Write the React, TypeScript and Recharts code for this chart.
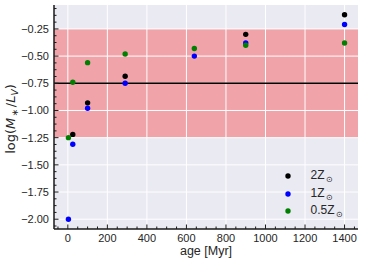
import React from 'react'
import { ScatterChart, Scatter, XAxis, YAxis, ReferenceArea, ReferenceLine, Legend } from 'recharts'

// ages in Myr and log(M*/L_V) for each metallicity
const ages2Z = [25, 100, 290, 900, 1400]
const logML2Z = [-1.22, -0.93, -0.685, -0.30, -0.12]
const ages1Z = [3, 25, 100, 290, 640, 900, 1400]
const logML1Z = [-2.0, -1.31, -0.98, -0.75, -0.5, -0.38, -0.21]
const ages05Z = [3, 25, 100, 290, 640, 900, 1400]
const logML05Z = [-1.25, -0.74, -0.56, -0.48, -0.43, -0.4, -0.38]

const xMajor = [0, 200, 400, 600, 800, 1000, 1200, 1400]
const yMajor = [-2.0, -1.75, -1.5, -1.25, -1.0, -0.75, -0.5, -0.25]
const xDomain: [number, number] = [-70, 1468]
const yDomain: [number, number] = [-2.09, -0.03]
const band: [number, number] = [-1.25, -0.25]
const refLevel = -0.75

// minor ticks: 4 divisions per major step
const xTicks: number[] = []
for (let v = -50; v <= 1450; v += 50) xTicks.push(v)
const yTicks: number[] = []
for (let v = -2.0625; v <= -0.05; v += 0.0625) yTicks.push(v)

const toPoints = (ages: number[], vals: number[]) => ages.map((age, i) => ({ age, v: vals[i] }))

const series = [
  { name: '2Z', color: '#000000', data: toPoints(ages2Z, logML2Z) },
  { name: '1Z', color: '#0000ff', data: toPoints(ages1Z, logML1Z) },
  { name: '0.5Z', color: '#008000', data: toPoints(ages05Z, logML05Z) },
]

const FONT = '"Liberation Sans", Arial, sans-serif'
const MATH = '"DejaVu Sans", sans-serif'
const INK = '#262626'
const FRAME = '#1a1a1a'
const MAJOR = 4.5
const MINOR = 2.5

const isMajor = (v: number, majors: number[]) => majors.some(m => Math.abs(m - v) < 1e-6)
const fmtY = (v: number) => (v < 0 ? '\u2212' : '') + Math.abs(v).toFixed(2)

const BottomTick = (props: any) => {
  const { x, y, payload } = props
  const major = isMajor(payload.value, xMajor)
  return (
    <g>
      <line x1={x} x2={x} y1={y} y2={y - (major ? MAJOR : MINOR)} stroke={FRAME} strokeWidth={1} />
      {major && (
        <text x={x} y={y + 12.5} textAnchor="middle" fontSize={11} fontFamily={FONT} fill={INK}>
          {payload.value}
        </text>
      )}
    </g>
  )
}

const TopTick = (props: any) => {
  const { x, y, payload } = props
  const major = isMajor(payload.value, xMajor)
  return <line x1={x} x2={x} y1={y} y2={y + (major ? MAJOR : MINOR)} stroke={FRAME} strokeWidth={1} />
}

const LeftTick = (props: any) => {
  const { x, y, payload } = props
  const major = isMajor(payload.value, yMajor)
  return (
    <g>
      <line x1={x} x2={x + (major ? MAJOR : MINOR)} y1={y} y2={y} stroke={FRAME} strokeWidth={1} />
      {major && (
        <text x={x - 5} y={y + 4} textAnchor="end" fontSize={11} fontFamily={FONT} fill={INK}>
          {fmtY(payload.value)}
        </text>
      )}
    </g>
  )
}

const RightTick = (props: any) => {
  const { x, y, payload } = props
  const major = isMajor(payload.value, yMajor)
  return <line x1={x} x2={x - (major ? MAJOR : MINOR)} y1={y} y2={y} stroke={FRAME} strokeWidth={1} />
}

const XLabel = (props: any) => {
  const vb = props.viewBox
  return (
    <text x={vb.x + vb.width / 2} y={vb.y + 25.5} textAnchor="middle" fontSize={12.5} fontFamily={FONT} fill={INK}>
      age [Myr]
    </text>
  )
}

const YLabel = (props: any) => {
  const vb = props.viewBox
  const cy = vb.y + vb.height / 2 + 2
  return (
    <text
      transform={`translate(14.5,${cy}) rotate(-90)`}
      textAnchor="middle"
      fontSize={13}
      fontFamily={MATH}
      fill={INK}
    >
      log(<tspan fontStyle="italic">M</tspan>
      <tspan fontSize={9} dy={3} dx={1.5}>∗</tspan>
      <tspan dy={-3} dx={1.5}>/</tspan>
      <tspan fontStyle="italic">L</tspan>
      <tspan fontSize={9} dy={3} fontStyle="italic">V</tspan>
      <tspan dy={-3}>)</tspan>
    </text>
  )
}

const LegendBox = () => (
  <div style={{ fontFamily: FONT, color: INK }}>
    {series.map(s => (
      <div key={s.name} style={{ display: 'flex', alignItems: 'center', height: 17.7 }}>
        <svg width={8} height={8} style={{ marginLeft: 4 }}>
          <circle cx={4} cy={4} r={2.7} fill={s.color} />
        </svg>
        <span style={{ marginLeft: 18.5, fontSize: 12, lineHeight: '12px' }}>
          {s.name}
          <span style={{ fontSize: 8, position: 'relative', top: 3, marginLeft: 1 }}>⊙</span>
        </span>
      </div>
    ))}
  </div>
)

export default function App() {
  return (
    <div style={{ position: 'absolute', left: 0, top: 0, width: 366, height: 261, background: '#fff' }}>
      <ScatterChart width={366} height={261} margin={{ top: 5, right: 8, bottom: 0, left: 0 }}>
        {/* seaborn-like background and white grid */}
        <ReferenceArea
          xAxisId="b"
          yAxisId="l"
          x1={xDomain[0]}
          x2={xDomain[1]}
          y1={yDomain[0]}
          y2={yDomain[1]}
          fill="#eaeaf2"
          fillOpacity={1}
          stroke="none"
        />
        {xMajor.map(v => (
          <ReferenceLine key={'gx' + v} xAxisId="b" yAxisId="l" x={v} stroke="#ffffff" strokeWidth={1} />
        ))}
        {yMajor.map(v => (
          <ReferenceLine key={'gy' + v} xAxisId="b" yAxisId="l" y={v} stroke="#ffffff" strokeWidth={1} />
        ))}

        <ReferenceArea
          xAxisId="b"
          yAxisId="l"
          x1={xDomain[0]}
          x2={xDomain[1]}
          y1={band[0]}
          y2={band[1]}
          fill="#ff0000"
          fillOpacity={0.3}
          stroke="none"
        />
        <ReferenceLine xAxisId="b" yAxisId="l" y={refLevel} stroke="#000000" strokeWidth={1.5} />

        <XAxis
          xAxisId="b"
          type="number"
          dataKey="age"
          domain={xDomain}
          ticks={xTicks}
          interval={0}
          height={32}
          tickSize={0}
          tickMargin={0}
          tickLine={false}
          axisLine={{ stroke: FRAME, strokeWidth: 1.5 }}
          tick={<BottomTick />}
          label={<XLabel />}
          allowDataOverflow
        />
        <XAxis
          xAxisId="t"
          type="number"
          orientation="top"
          domain={xDomain}
          ticks={xTicks}
          interval={0}
          height={0}
          tickSize={0}
          tickMargin={0}
          tickLine={false}
          axisLine={{ stroke: FRAME, strokeWidth: 1.5 }}
          tick={<TopTick />}
          allowDataOverflow
        />
        <YAxis
          yAxisId="l"
          type="number"
          dataKey="v"
          domain={yDomain}
          ticks={yTicks}
          interval={0}
          width={54}
          tickSize={0}
          tickMargin={0}
          tickLine={false}
          axisLine={{ stroke: FRAME, strokeWidth: 1.5 }}
          tick={<LeftTick />}
          label={<YLabel />}
          allowDataOverflow
        />
        <YAxis
          yAxisId="r"
          type="number"
          orientation="right"
          domain={yDomain}
          ticks={yTicks}
          interval={0}
          width={0}
          tickSize={0}
          tickMargin={0}
          tickLine={false}
          axisLine={{ stroke: FRAME, strokeWidth: 1.5 }}
          tick={<RightTick />}
          allowDataOverflow
        />

        {series.map(s => (
          <Scatter
            key={s.name}
            name={s.name}
            xAxisId="b"
            yAxisId="l"
            data={s.data}
            fill={s.color}
            isAnimationActive={false}
            shape={(p: any) => <circle cx={p.cx} cy={p.cy} r={2.7} fill={s.color} />}
          />
        ))}

        <Legend
          layout="vertical"
          align="center"
          verticalAlign="middle"
          content={<LegendBox />}
          wrapperStyle={{ position: 'absolute', left: 280, top: 167, width: 80, height: 54 }}
        />
      </ScatterChart>
    </div>
  )
}
